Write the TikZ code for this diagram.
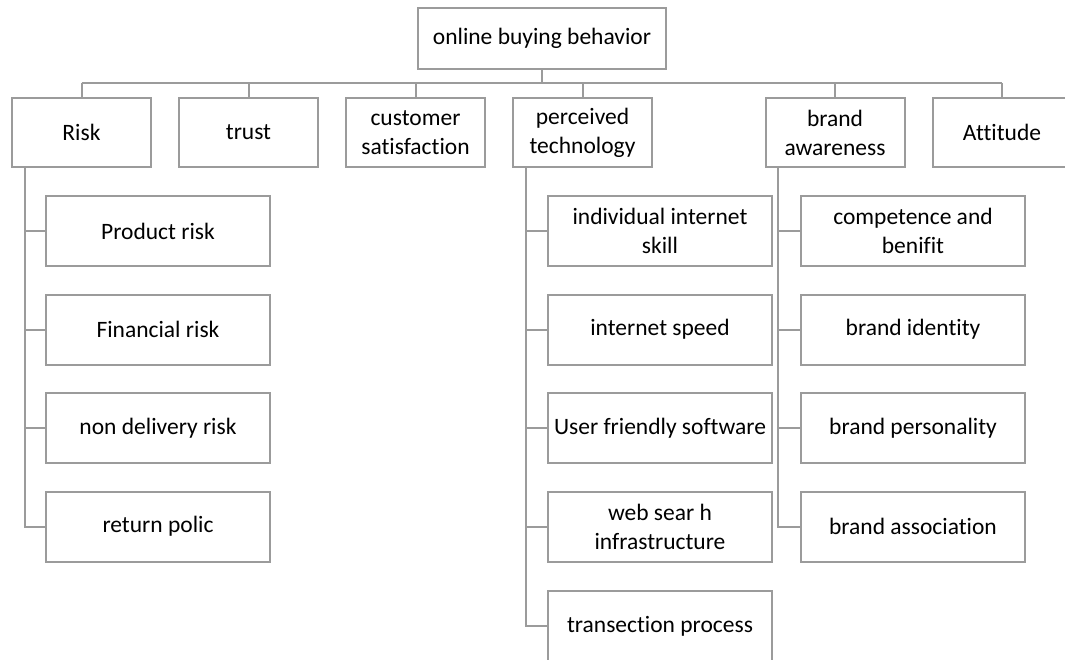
\documentclass[tikz,border=0pt]{standalone}
\usepackage{fontspec}
\setmainfont{Carlito}[Ligatures=NoCommon]
\definecolor{lc}{RGB}{155,155,155}
\tikzset{
  box/.style={draw=lc, line width=2pt, fill=white, align=center, inner sep=0pt,
    text=black, font=\fontsize{23.5}{29}\selectfont},
  rootbox/.style={box, minimum width=248pt, minimum height=61pt},
  lvlbox/.style={box, minimum width=139pt, minimum height=69pt},
  subbox/.style={box, minimum width=224pt, minimum height=70pt},
  link/.style={draw=lc, line width=2pt}
}
\begin{document}
\begin{tikzpicture}[x=1pt,y=-1pt]
\useasboundingbox (0,0) rectangle (1065,660);

% root
\node[rootbox] (root) at (542,38.5) {online buying behavior};

% level 1
\node[lvlbox] (risk)  at (81.5,132.5)  {Risk};
\node[lvlbox] (trust) at (248.5,132.5) {trust};
\node[lvlbox] (cust)  at (415.5,132.5) {customer\\satisfaction};
\node[lvlbox] (tech)  at (582.5,132.5) {perceived\\technology};
\node[lvlbox] (brand) at (835,132.5)   {brand\\awareness};
\node[lvlbox] (att)   at (1002,132.5)  {Attitude};

% level 2 - risk
\node[subbox] (r1) at (158,231)   {Product risk};
\node[subbox] (r2) at (158,329.5) {Financial risk};
\node[subbox] (r3) at (158,428)   {non delivery risk};
\node[subbox] (r4) at (158,526.5) {return polic};

% level 2 - technology
\node[subbox] (t1) at (660,231)   {individual internet\\skill};
\node[subbox] (t2) at (660,329.5) {internet speed};
\node[subbox] (t3) at (660,428)   {User friendly software};
\node[subbox] (t4) at (660,526.5) {web sear h\\infrastructure};
\node[subbox] (t5) at (660,626)   {transection process};

% level 2 - brand
\node[subbox] (b1) at (913,231)   {competence and\\benifit};
\node[subbox] (b2) at (913,329.5) {brand identity};
\node[subbox] (b3) at (913,428)   {brand personality};
\node[subbox] (b4) at (913,526.5) {brand association};

% bus
\coordinate (bus) at (0,83);
\draw[link] (root.south) -- (root.south |- bus);
\draw[link] (risk.north |- bus) -- (att.north |- bus);
\foreach \n in {risk,trust,cust,tech,brand,att}
  \draw[link] (\n.north) -- (\n.north |- bus);

% trunks
\coordinate (rt) at ([xshift=14pt]risk.south west);
\coordinate (tt) at ([xshift=14pt]tech.south west);
\coordinate (bt) at ([xshift=13pt]brand.south west);
\foreach \c in {r1,r2,r3,r4} \draw[link] (rt) |- (\c.west);
\foreach \c in {t1,t2,t3,t4,t5} \draw[link] (tt) |- (\c.west);
\foreach \c in {b1,b2,b3,b4} \draw[link] (bt) |- (\c.west);
\end{tikzpicture}
\end{document}
